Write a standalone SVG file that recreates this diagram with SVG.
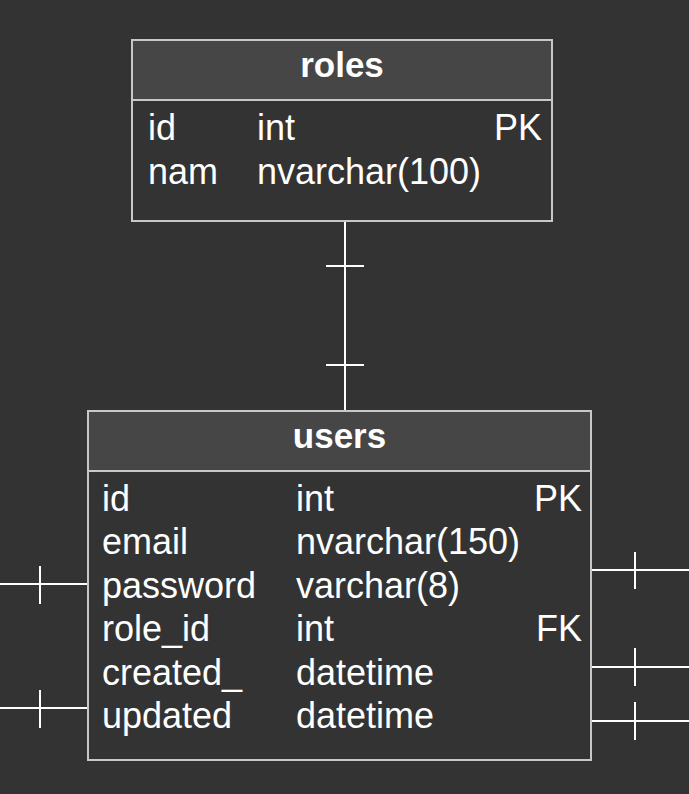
<svg xmlns="http://www.w3.org/2000/svg" width="689" height="794" viewBox="0 0 689 794">
<style>
.box{fill:#333333;stroke:#c8c8c8;stroke-width:2}
.hdr{fill:#464646;stroke:#c8c8c8;stroke-width:2}
.t{font-family:"Liberation Sans",Arial,sans-serif;font-size:36px;fill:#ffffff}
.h{font-family:"Liberation Sans",Arial,sans-serif;font-size:35px;font-weight:bold;fill:#ffffff;text-anchor:middle}
.r{text-anchor:end}
.c{stroke:#ffffff;stroke-width:2;fill:none}
</style>
<rect width="689" height="794" fill="#333333"/>
<g id="connectors">
<path class="c" d="M345 221V411M326 266H364M326 365H364"/>
<path class="c" d="M0 584H88M40 566V604"/>
<path class="c" d="M0 708H88M40 690V728"/>
<path class="c" d="M591 570H689M635 552V589"/>
<path class="c" d="M591 667H689M635 648V686"/>
<path class="c" d="M591 721H689M635 702V740"/>
</g>
<g id="roles">
<rect class="box" x="132" y="40" width="420" height="181"/>
<rect class="hdr" x="132" y="40" width="420" height="60"/>
<text class="h" x="342" y="77">roles</text>
<text class="t" x="148" y="140">id</text>
<text class="t" x="257" y="140">int</text>
<text class="t r" x="542" y="140">PK</text>
<text class="t" x="148" y="184">nam</text>
<text class="t" x="257" y="184">nvarchar(100)</text>
</g>
<g id="users">
<rect class="box" x="88" y="411" width="503" height="349"/>
<rect class="hdr" x="88" y="411" width="503" height="60"/>
<text class="h" x="339.5" y="448">users</text>
<text class="t" x="102" y="511">id</text>
<text class="t" x="296" y="511">int</text>
<text class="t r" x="582" y="511">PK</text>
<text class="t" x="102" y="554">email</text>
<text class="t" x="296" y="554">nvarchar(150)</text>
<text class="t" x="102" y="597.5">password</text>
<text class="t" x="296" y="597.5">varchar(8)</text>
<text class="t" x="102" y="641">role_id</text>
<text class="t" x="296" y="641">int</text>
<text class="t r" x="582" y="641">FK</text>
<text class="t" x="102" y="684.5">created_</text>
<text class="t" x="296" y="684.5">datetime</text>
<text class="t" x="102" y="728">updated</text>
<text class="t" x="296" y="728">datetime</text>
</g>
</svg>
